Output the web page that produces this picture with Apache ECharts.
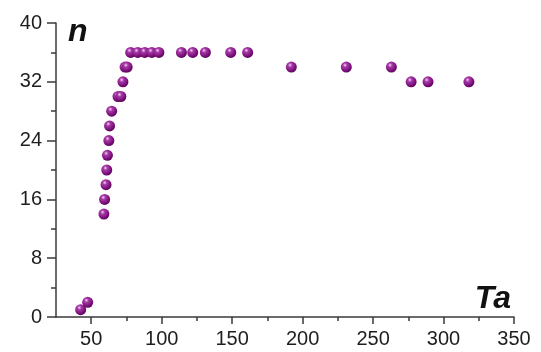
<!DOCTYPE html>
<html>
<head>
<meta charset="utf-8">
<script src="https://cdn.jsdelivr.net/npm/echarts@6/dist/echarts.min.js"></script>
<style>
html,body{margin:0;padding:0;background:#fff;}
#main{width:541px;height:352px;}
</style>
</head>
<body>
<div id="main"></div>
<script>
// Ta (x) vs n (y)
var taValues = [42.5, 47.5, 59, 59.5, 60.5, 61, 61.5, 62.5, 63, 64.5, 69, 71, 72.5, 74, 75.5,
    78, 83, 88, 93, 98, 114, 122, 131, 149, 161, 192, 231, 263, 277, 289, 318];
var nValues = [1, 2, 14, 16, 18, 20, 22, 24, 26, 28, 30, 30, 32, 34, 34,
    36, 36, 36, 36, 36, 36, 36, 36, 36, 36, 34, 34, 34, 32, 32, 32];
var xMajorTicks = [50, 100, 150, 200, 250, 300, 350];
var xMinorTicks = [75, 125, 175, 225, 275, 325];

var myChart = echarts.init(document.getElementById('main'), null, {renderer: 'canvas'});

var scatterData = [];
for (var i = 0; i < taValues.length; i++) {
    scatterData.push([taValues[i], nValues[i]]);
}

var axisColor = '#3a3a3a';
var labelFont = {color: '#1e1e1e', fontSize: 20, fontFamily: 'Liberation Sans, Arial, sans-serif'};

var ballColor = new echarts.graphic.RadialGradient(0.38, 0.32, 0.75, [
    {offset: 0, color: '#f4d4f4'},
    {offset: 0.25, color: '#a83aa8'},
    {offset: 0.7, color: '#7a0f7a'},
    {offset: 1, color: '#4e004e'}
]);

var option = {
    animation: false,
    grid: {left: 56, right: 27, top: 23, bottom: 35},
    xAxis: [{
        type: 'value',
        min: 25,
        max: 350,
        position: 'bottom',
        axisLine: {onZero: false, lineStyle: {color: axisColor, width: 1.5}},
        axisTick: {customValues: xMajorTicks, length: 7, lineStyle: {color: axisColor, width: 1.5}},
        axisLabel: Object.assign({customValues: xMajorTicks, margin: 12}, labelFont),
        splitLine: {show: false},
        name: 'Ta',
        nameLocation: 'end',
        nameGap: -3,
        nameTextStyle: {
            fontSize: 32, fontWeight: 'bold', fontStyle: 'italic', color: '#111',
            fontFamily: 'Liberation Sans, Arial, sans-serif',
            align: 'right', verticalAlign: 'bottom', padding: [0, 0, 2, 0]
        }
    }, {
        // minor ticks only
        type: 'value',
        min: 25,
        max: 350,
        position: 'bottom',
        offset: 0,
        axisLine: {show: false, onZero: false},
        axisTick: {customValues: xMinorTicks, length: 4, lineStyle: {color: axisColor, width: 1.5}},
        axisLabel: {show: false},
        splitLine: {show: false}
    }],
    yAxis: {
        type: 'value',
        min: 0,
        max: 40,
        interval: 8,
        axisLine: {show: true, onZero: false, lineStyle: {color: axisColor, width: 1.5}},
        axisTick: {show: true, length: 9, lineStyle: {color: axisColor, width: 1.5}},
        minorTick: {show: true, splitNumber: 2, length: 5, lineStyle: {color: axisColor, width: 1.5}},
        axisLabel: Object.assign({margin: 14}, labelFont),
        splitLine: {show: false},
        name: 'n',
        nameLocation: 'end',
        nameGap: 7,
        nameTextStyle: {
            fontSize: 32, fontWeight: 'bold', fontStyle: 'italic', color: '#111',
            fontFamily: 'Liberation Sans, Arial, sans-serif',
            align: 'left', verticalAlign: 'top', padding: [0, 0, 0, 12]
        }
    },
    series: [{
        name: 'n',
        type: 'scatter',
        symbolSize: 11,
        data: scatterData,
        itemStyle: {color: ballColor, opacity: 1}
    }]
};
myChart.setOption(option);
</script>
</body>
</html>
